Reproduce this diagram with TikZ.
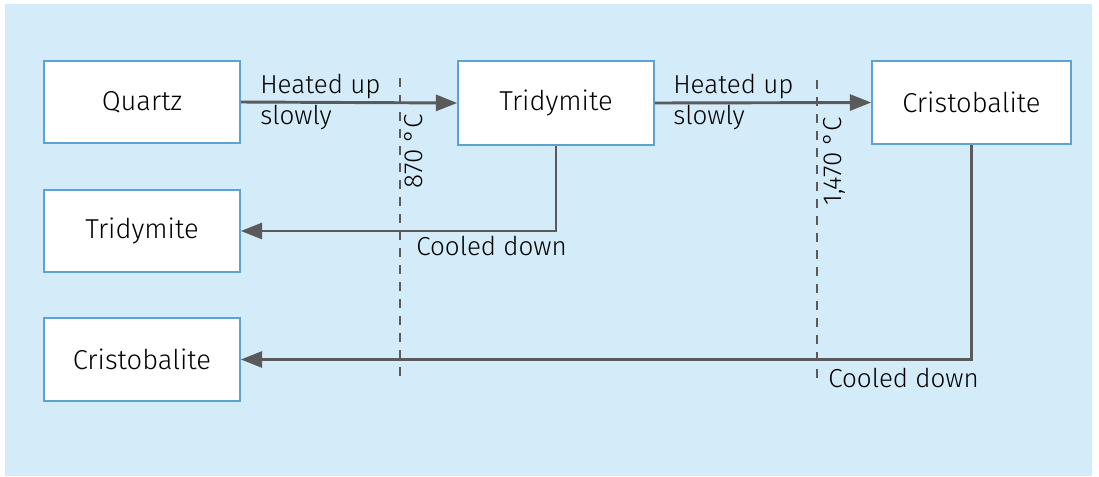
\documentclass[tikz,border=0pt]{standalone}
\usepackage{fontspec}
\setmainfont{Fira Sans Light}
\usetikzlibrary{arrows.meta}
\definecolor{bgblue}{HTML}{D4EBF9}
\definecolor{boxline}{HTML}{5BA3D0}
\definecolor{arrgray}{HTML}{5A5A5A}
\begin{document}
\begin{tikzpicture}[x=0.75pt,y=-0.75pt,
  mbox/.style={draw=boxline,line width=1.2pt,fill=white,minimum width=196*0.75pt,minimum height=82*0.75pt,inner sep=0pt,font=\fontsize{20.5}{24}\selectfont},
  flow/.style={draw=arrgray,line width=2.2pt,-{Triangle[length=16pt,width=12pt]}},
  dashseg/.style={draw=arrgray,line width=2.2pt},
  lbl/.style={font=\fontsize{19.5}{23.5}\selectfont,inner sep=0pt,text=black}]
\useasboundingbox (0,0) rectangle (1099,476);
\fill[white] (0,0) rectangle (1099,476);
\fill[bgblue] (5,4) rectangle (1092,476);
% dashed temperature lines
\foreach \yy in {78,95,...,375} {\draw[dashseg] (400,\yy) -- (400,\yy+9);}
\foreach \yy in {80,97,...,382} {\draw[dashseg] (817,\yy) -- (817,\yy+9);}
% boxes
\node[mbox] (q) at (142,102) {Quartz};
\node[mbox,minimum height=84*0.75pt] (t1) at (556,103) {Tridymite};
\node[mbox,minimum width=199*0.75pt,minimum height=83*0.75pt] (c1) at (971.5,102.5) {Cristobalite};
\node[mbox] (t2) at (142,231) {Tridymite};
\node[mbox,minimum height=83*0.75pt] (c2) at (142,359.5) {Cristobalite};
% arrows
\draw[flow] (q.east) -- (t1.west);
\draw[flow] (t1.east) -- (c1.west);
\draw[flow] (t1.south) |- (t2.east);
\draw[flow] (c1.south) |- (c2.east);
% labels
\node[lbl,anchor=west,align=left] (l1) at (260,102) {Heated up\\slowly};
\node[lbl,anchor=west,align=left] (l2) at (673,102) {Heated up\\slowly};
\node[lbl,anchor=east,rotate=90] (l3) at (414,114) {870 °C};
\node[lbl,anchor=east,rotate=90] (l4) at (834,117) {1,470 °C};
\node[lbl,anchor=north west] (l5) at (416,236) {Cooled down};
\node[lbl,anchor=north west] (l6) at (828,368) {Cooled down};
\end{tikzpicture}
\end{document}
